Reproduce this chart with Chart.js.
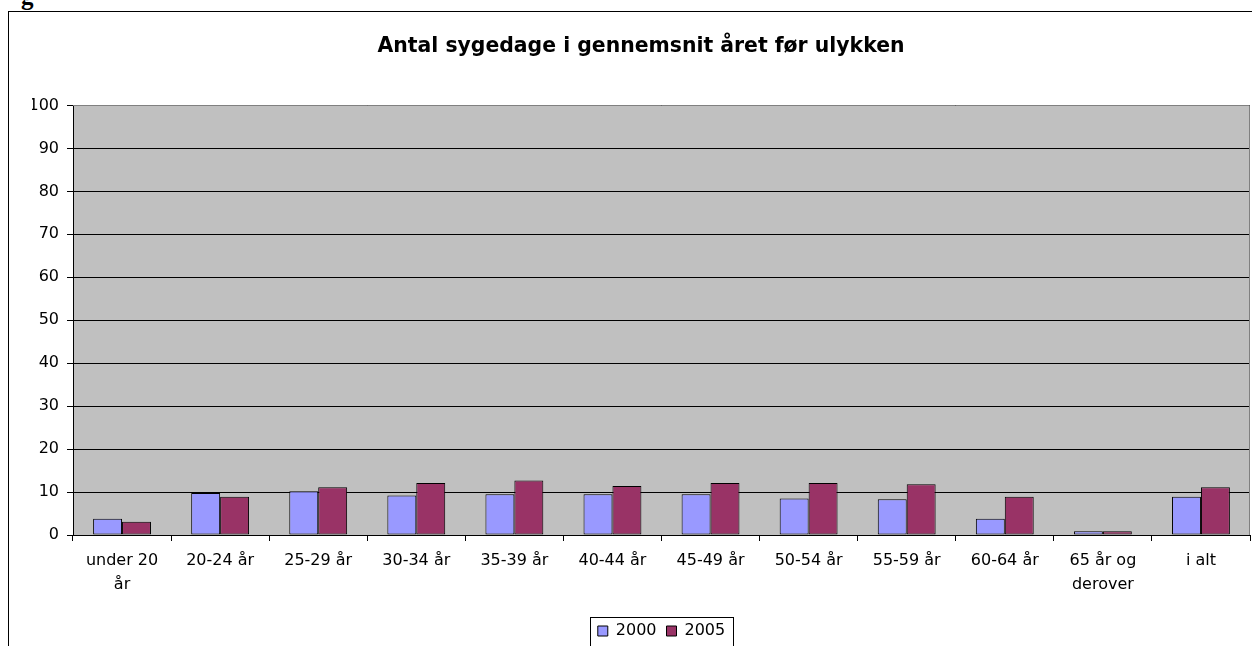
<!DOCTYPE html>
<html>
<head>
<meta charset="utf-8">
<script src="https://cdn.jsdelivr.net/npm/chart.js@4"></script>
<style>
  html, body { margin: 0; padding: 0; background: #fff; overflow: hidden; }
  #wrap { position: relative; width: 1252px; height: 646px; overflow: hidden; }
  #frame { position: absolute; left: 8px; top: 11px; width: 2000px; height: 2000px;
           border-left: 1px solid #000; border-top: 1px solid #000; }
  #cut { position: absolute; left: 21px; top: -16px; font: bold 25px "Liberation Serif", serif; line-height: 1; }
  #chart { position: absolute; left: 0; top: 0; }
</style>
</head>
<body>
<div id="wrap">
  <div id="cut">g</div>
  <div id="frame"></div>
  <canvas id="chart" width="1252" height="660"></canvas>
</div>
<script>
// Data
const title = 'Antal sygedage i gennemsnit året før ulykken';
const categories = [
  ['under 20', 'år'], '20-24 år', '25-29 år', '30-34 år', '35-39 år', '40-44 år',
  '45-49 år', '50-54 år', '55-59 år', '60-64 år', ['65 år og', 'derover'], 'i alt'
];
const seriesNames = ['2000', '2005'];
const values2000 = [3.8, 9.8, 10.2, 9.2, 9.5, 9.5, 9.5, 8.5, 8.3, 3.8, 0.9, 8.9];
const values2005 = [3.1, 8.9, 11.1, 12.1, 12.7, 11.4, 12.1, 12.1, 11.8, 8.9, 0.9, 11.1];
const yTicks = [0, 10, 20, 30, 40, 50, 60, 70, 80, 90, 100];

const FONT = 'DejaVu Sans';

// gray plot background + gray top/right border, legend frame
const plotArea = {
    id: 'plotArea',
    beforeDraw(chart) {
        const { ctx, chartArea: a } = chart;
        ctx.save();
        ctx.fillStyle = '#C0C0C0';
        ctx.fillRect(a.left, a.top, a.right - a.left, a.bottom - a.top);
        ctx.restore();
    },
    beforeDatasetsDraw(chart) {
        const { ctx, chartArea: a } = chart;
        ctx.save();
        ctx.strokeStyle = '#808080';
        ctx.lineWidth = 1;
        ctx.beginPath();
        ctx.moveTo(a.left, Math.round(a.top) + 0.5);
        ctx.lineTo(Math.round(a.right) - 0.5, Math.round(a.top) + 0.5);
        ctx.lineTo(Math.round(a.right) - 0.5, a.bottom);
        ctx.stroke();
        ctx.restore();
    },
    afterDraw(chart) {
        const boxes = chart.legend.legendHitBoxes;
        if (!boxes || !boxes.length) return;
        const first = boxes[0], last = boxes[boxes.length - 1];
        const x0 = Math.round(first.left - 8) + 0.5;
        const x1 = Math.round(last.left + last.width + 8) + 0.5;
        const y0 = Math.round(first.top - 6) + 0.5;
        const ctx = chart.ctx;
        ctx.save();
        ctx.strokeStyle = '#000';
        ctx.lineWidth = 1;
        ctx.strokeRect(x0, y0, x1 - x0, 60);
        ctx.restore();
    }
};

new Chart(document.getElementById('chart'), {
    type: 'bar',
    data: {
        labels: categories,
        datasets: [
            { label: seriesNames[0], data: values2000, backgroundColor: '#9999FF', borderColor: '#000', borderWidth: 1, borderSkipped: false },
            { label: seriesNames[1], data: values2005, backgroundColor: '#993366', borderColor: '#000', borderWidth: 1, borderSkipped: false }
        ]
    },
    options: {
        responsive: false,
        animation: false,
        devicePixelRatio: 1,
        categoryPercentage: 0.59,
        barPercentage: 1,
        layout: { padding: { left: 32, right: 2, top: 0, bottom: 11 } },
        plugins: {
            title: {
                display: true,
                text: title,
                color: '#000',
                font: { family: FONT, size: 20.4, weight: 'bold', lineHeight: 1.2 },
                padding: { top: 34, bottom: 47 }
            },
            legend: {
                position: 'bottom',
                fullSize: false,
                labels: {
                    color: '#000',
                    font: { family: FONT, size: 16 },
                    boxWidth: 10,
                    boxHeight: 10,
                    padding: 10
                }
            },
            tooltip: { enabled: false }
        },
        scales: {
            x: {
                grid: { display: true, drawOnChartArea: false, drawTicks: true, tickLength: 6, color: '#000', offset: true },
                border: { display: true, color: '#000', width: 1 },
                ticks: {
                    color: '#000',
                    font: { family: FONT, size: 16, lineHeight: 1.55 },
                    padding: 7,
                    maxRotation: 0,
                    autoSkip: false
                },
                afterFit(scale) { scale.height = 78; }
            },
            y: {
                min: yTicks[0],
                max: yTicks[yTicks.length - 1],
                grid: { color: '#000', lineWidth: 1, tickLength: 6, drawTicks: true },
                border: { display: true, color: '#000', width: 1 },
                ticks: {
                    stepSize: yTicks[1] - yTicks[0],
                    color: '#000',
                    font: { family: FONT, size: 16 },
                    padding: 8
                },
                afterFit(scale) { scale.width = 41; }
            }
        }
    },
    plugins: [plotArea]
});
</script>
</body>
</html>
